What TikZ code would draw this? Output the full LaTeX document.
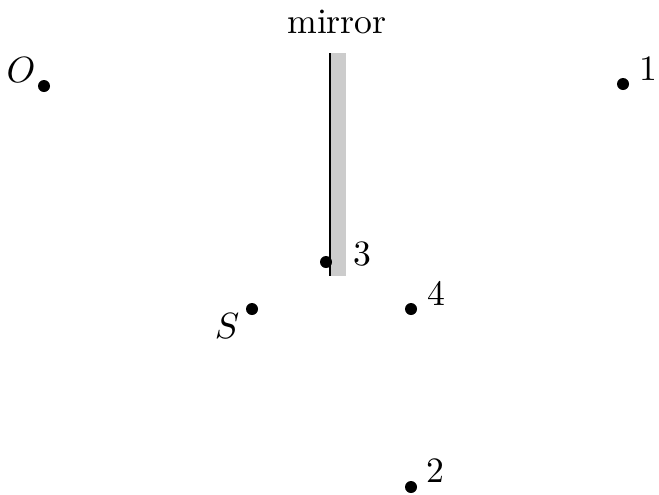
\documentclass[tikz,border=0pt]{standalone}
\begin{document}
\begin{tikzpicture}[x=0.3pt,y=-0.3pt,
  dotnode/.style={circle,fill=black,inner sep=0pt,minimum size=3.6pt},
  lbl/.style={inner sep=0pt,font=\fontsize{10.7}{12}\selectfont}]
\useasboundingbox (0,0) rectangle (659,494);
\fill[black!20] (331,53) rectangle (346,276);
\draw[line width=0.6pt] (330,53) -- (330,276);
\node[lbl] (mirrorlbl) at (337,22) {mirror};
\node[dotnode] (O) at (44,86) {};
\node[lbl] (Olbl) at (21,70) {$O$};
\node[dotnode] (p1) at (623,84) {};
\node[lbl] (l1) at (648,69) {1};
\node[dotnode] (p3) at (326,262) {};
\node[lbl] (l3) at (362,254) {3};
\node[dotnode] (S) at (252,309) {};
\node[lbl] (Slbl) at (227,326) {$S$};
\node[dotnode] (p4) at (411,309) {};
\node[lbl] (l4) at (436,293) {4};
\node[dotnode] (p2) at (411,487) {};
\node[lbl] (l2) at (435,471) {2};
\end{tikzpicture}
\end{document}
